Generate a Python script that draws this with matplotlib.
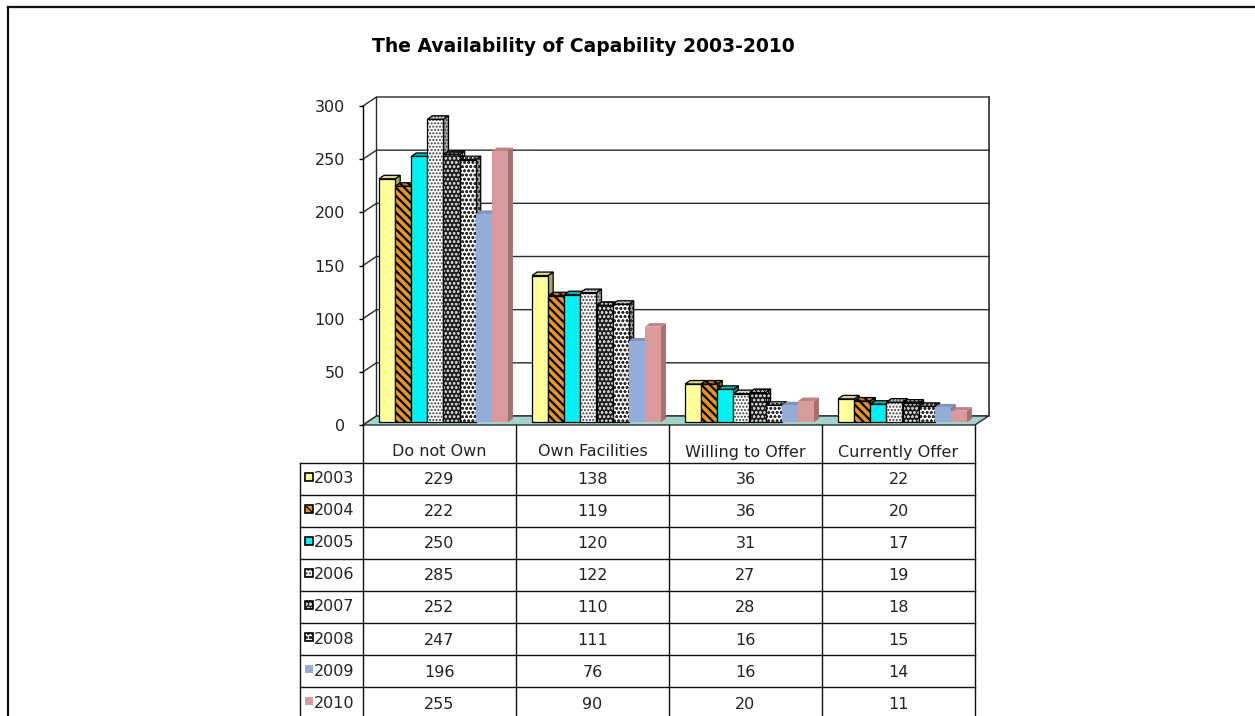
import matplotlib
matplotlib.use('Agg')
import matplotlib.pyplot as plt
from matplotlib.patches import Rectangle, Polygon
from matplotlib.lines import Line2D

# ---------------- data ----------------
categories = ['Do not Own', 'Own Facilities', 'Willing to Offer', 'Currently Offer']
years = ['2003', '2004', '2005', '2006', '2007', '2008', '2009', '2010']
v2003 = [229, 138, 36, 22]
v2004 = [222, 119, 36, 20]
v2005 = [250, 120, 31, 17]
v2006 = [285, 122, 27, 19]
v2007 = [252, 110, 28, 18]
v2008 = [247, 111, 16, 15]
v2009 = [196, 76, 16, 14]
v2010 = [255, 90, 20, 11]
series = [v2003, v2004, v2005, v2006, v2007, v2008, v2009, v2010]
yticks = [0, 50, 100, 150, 200, 250, 300]
title = 'The Availability of Capability 2003-2010'

# ---------------- styles ----------------
styles = [
    dict(face='#FFFF99', top='#D8D88A', side='#A6A665', hatch=None, hc=None, edge='black', hlw=1.0),
    dict(face='#E8961E', top='#C27A18', side='#9A6012', hatch='\\\\\\\\', hc='black', edge='black', hlw=1.6),
    dict(face='#00F2F2', top='#00B8B8', side='#008A8A', hatch=None, hc=None, edge='black', hlw=1.0),
    dict(face='#FFFFFF', top='#D9D9D9', side='#ABABAB', hatch='.....', hc='#3A3A3A', edge='black', hlw=1.0),
    dict(face='#1E1E1E', top='#1E1E1E', side='#111111', hatch='oooo', hc='#C8C8C8', edge='black', hlw=0.6),
    dict(face='#FFFFFF', top='#D0D0D0', side='#A0A0A0', hatch='oooo', hc='#303030', edge='black', hlw=0.8),
    dict(face='#96ACD8', top='#8194BC', side='#6E80A6', hatch=None, hc=None, edge=None, hlw=1.0),
    dict(face='#D99A9C', top='#BE8284', side='#A56E70', hatch=None, hc=None, edge=None, hlw=1.0),
]

W, H = 1255, 716
fig = plt.figure(figsize=(W / 100, H / 100), dpi=100)

# front plane of the pseudo-3D plot (pixel layout)
X0, X1 = 363, 975
Y0, YT = 425, 106
ax = fig.add_axes([X0 / W, 1 - Y0 / H, (X1 - X0) / W, (Y0 - YT) / H])
ncat = len(categories)
ax.set_xlim(0, ncat)
ax.set_ylim(0, 300)
ppx = (X1 - X0) / ncat
ppy = (Y0 - YT) / 300.0


def off(dxp, dyp):
    return dxp / ppx, dyp / ppy


DX, DY = off(13.5, 9.0)
grid_c = '#2b2b2b'

# side wall + back wall (white)
ax.add_patch(Polygon([(0, 0), (DX, DY), (DX, 300 + DY), (0, 300)], closed=True,
                     facecolor='white', edgecolor='none', zorder=0, clip_on=False))
ax.add_patch(Rectangle((DX, DY), ncat, 300, facecolor='white', edgecolor='none',
                       zorder=0, clip_on=False))
# gridlines
for v in yticks:
    ax.add_line(Line2D([0, DX, ncat + DX], [v, v + DY, v + DY], color=grid_c, lw=1.0,
                       zorder=1, clip_on=False))
ax.add_line(Line2D([DX, DX], [DY, 300 + DY], color=grid_c, lw=1.0, zorder=1, clip_on=False))
ax.add_line(Line2D([ncat + DX, ncat + DX], [DY, 300 + DY], color=grid_c, lw=1.2, zorder=1,
                   clip_on=False))
# floor
ax.add_patch(Polygon([(0, 0), (ncat, 0), (ncat + DX, DY), (DX, DY)], closed=True,
                     facecolor='#A3D3CD', edgecolor=grid_c, lw=1.0, zorder=2, clip_on=False))

# bars
nser = len(series)
w = 1.0 / (nser + 1.5)
bx, by = off(4.0, 2.7)
bdx, bdy = off(5.0, 3.5)


def face_patch(make, st, color, z):
    with plt.rc_context({'hatch.linewidth': st['hlw']}):
        if st['hatch']:
            p = make(facecolor=color, edgecolor=st['hc'], hatch=st['hatch'], lw=0)
        else:
            p = make(facecolor=color, edgecolor='none', lw=0)
    p.set_zorder(z)
    p.set_clip_on(False)
    ax.add_patch(p)
    if st['edge']:
        q = make(facecolor='none', edgecolor=st['edge'], lw=0.9)
        q.set_zorder(z + 0.01)
        q.set_clip_on(False)
        ax.add_patch(q)


for i in range(ncat):
    for j, vals in enumerate(series):
        st = styles[j]
        v = vals[i]
        xl = i + 0.75 * w + j * w + bx
        top = v + by
        z = 3 + j * 0.1
        face_patch(lambda **k: Polygon([(xl + w, by), (xl + w + bdx, by + bdy),
                                        (xl + w + bdx, top + bdy), (xl + w, top)],
                                       closed=True, **k), st, st['side'], z)
        face_patch(lambda **k: Polygon([(xl, top), (xl + w, top), (xl + w + bdx, top + bdy),
                                        (xl + bdx, top + bdy)], closed=True, **k),
                   st, st['top'], z + 0.02)
        face_patch(lambda **k: Rectangle((xl, by), w, v, **k), st, st['face'], z + 0.04)

# axes styling
for s in ['top', 'right', 'bottom']:
    ax.spines[s].set_visible(False)
ax.spines['left'].set_color('black')
ax.spines['left'].set_linewidth(1.0)
ax.spines['left'].set_zorder(5)
ax.set_xticks([])
ax.set_yticks(yticks)
ax.set_yticklabels([str(t) for t in yticks], fontsize=11.5, family='DejaVu Sans', color='#222222')
ax.tick_params(axis='y', direction='out', length=3, width=1.0, pad=10, colors='black',
               labelcolor='#222222')
ax.patch.set_visible(False)

# ---------------- data table ----------------
TL = 300
tax = fig.add_axes([TL / W, 0, (X1 - TL) / W, (H - Y0) / H])
tax.set_xlim((TL - X0) / ppx, ncat)
tax.set_ylim(H - Y0, 0)
tax.axis('off')
hdr = 37.5
rh = 32.1
bottom = H - Y0
xleft = (TL - X0) / ppx
lc = '#111111'
for i in range(ncat + 1):
    tax.add_line(Line2D([i, i], [0, bottom], color=lc, lw=1.0, clip_on=False))
tax.add_line(Line2D([xleft, xleft], [hdr, bottom], color=lc, lw=1.0, clip_on=False))
for k in range(len(years) + 1):
    yy = hdr + k * rh
    tax.add_line(Line2D([xleft, ncat], [yy, yy], color=lc, lw=1.0, clip_on=False))
for i, c in enumerate(categories):
    tax.text(i + 0.5, 27, c, ha='center', va='center', fontsize=11.5,
             family='DejaVu Sans', color='#222222')
for j, (yr, vals) in enumerate(zip(years, series)):
    yc = hdr + (j + 0.5) * rh
    for i in range(ncat):
        tax.text(i + 0.5, yc + 1, str(vals[i]), ha='center', va='center', fontsize=11.5,
                 family='DejaVu Sans', color='#222222')
    tax.text(xleft + 14 / ppx, yc, yr, ha='left', va='center', fontsize=11.5,
             family='DejaVu Sans', color='#222222')
    st = styles[j]
    kx = xleft + 5 / ppx
    kw = 8 / ppx
    with plt.rc_context({'hatch.linewidth': 1.0}):
        kp = Rectangle((kx, yc - 6), kw, 8, facecolor=st['face'],
                       edgecolor=st['hc'] if st['hatch'] else 'none',
                       hatch=st['hatch'], lw=0)
    tax.add_patch(kp)
    if st['edge']:
        tax.add_patch(Rectangle((kx, yc - 6), kw, 8, facecolor='none', edgecolor='black', lw=1.2))

# ---------------- title & frame ----------------
fig.text(583 / W, 1 - 47 / H, title, ha='center', va='center', fontsize=13.5,
         fontweight='bold', family='DejaVu Sans')
fig.add_artist(Line2D([8 / W, 1], [1 - 7 / H, 1 - 7 / H], transform=fig.transFigure,
                      color='#111111', lw=1.6))
fig.add_artist(Line2D([8 / W, 8 / W], [0, 1 - 7 / H], transform=fig.transFigure,
                      color='#111111', lw=1.6))

fig.savefig('out.png', dpi=100)
